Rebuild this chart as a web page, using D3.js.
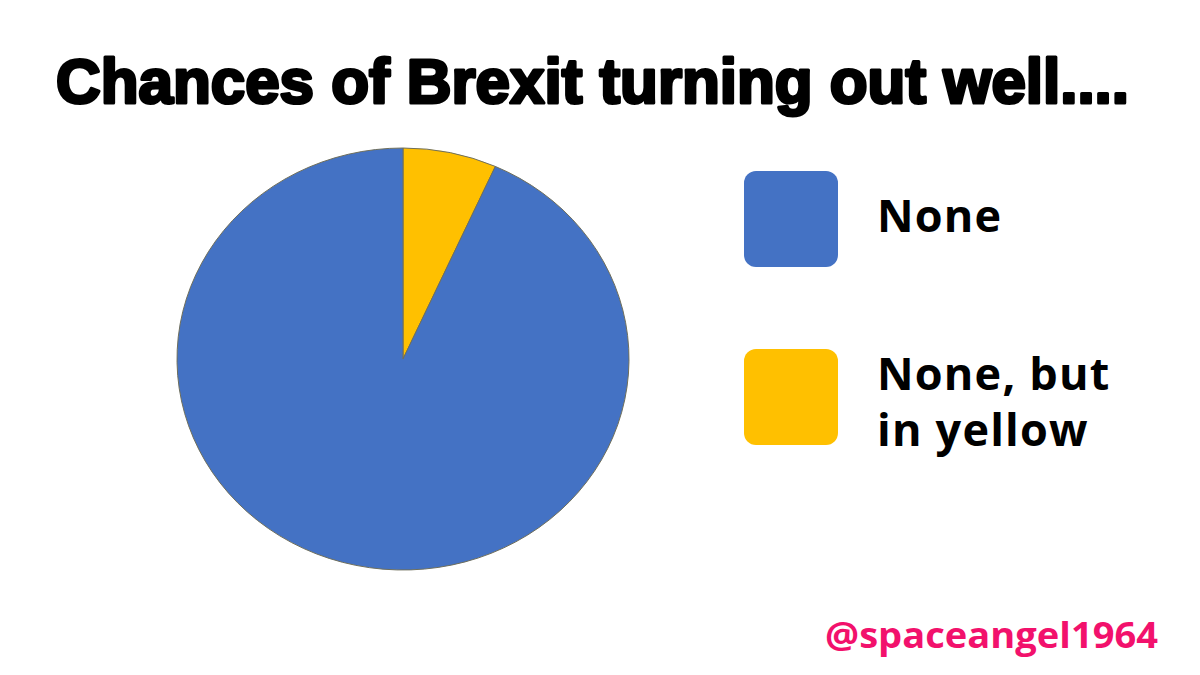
<!DOCTYPE html>
<html>
<head>
<meta charset="utf-8">
<script src="https://cdn.jsdelivr.net/npm/d3@7"></script>
<style>
  html, body { margin: 0; padding: 0; background: #fff; }
  svg { display: block; }
</style>
</head>
<body>
<svg id="chart" width="1200" height="675"></svg>
<script>
// ---- data ----
const categories = ["None", "None, but in yellow"];
const legendLines = [["None"], ["None, but", "in yellow"]];
const values = [93.3, 6.7];
const colors = ["#4472C4", "#FFC000"];
const titleText = "Chances of Brexit turning out well....";
const creditText = "@spaceangel1964";

// ---- drawing ----
const svg = d3.select("#chart");

svg.append("text")
  .attr("x", 56).attr("y", 103)
  .attr("textLength", 1073).attr("lengthAdjust", "spacingAndGlyphs")
  .style("font-family", "'Liberation Sans', Arial, sans-serif")
  .style("font-weight", "bold")
  .style("font-size", "63px")
  .attr("fill", "#000").attr("stroke", "#000").attr("stroke-width", 3.2)
  .attr("stroke-linejoin", "round")
  .text(titleText);

const cx = 403, cy = 359, rx = 226, ry = 211;
const pieData = categories.map((c, i) => ({ cat: c, value: values[i], color: colors[i] }));
const pie = d3.pie().sort(null).value(d => d.value);
const arcs = pie(pieData.slice().reverse());
const arc = d3.arc().innerRadius(0).outerRadius(ry);

const g = svg.append("g").attr("transform", `translate(${cx},${cy}) scale(${rx / ry},1)`);
g.selectAll("path").data(arcs).enter().append("path")
  .attr("d", arc)
  .attr("fill", d => d.data.color)
  .attr("stroke", "#6f6f5c")
  .attr("stroke-width", 1)
  .attr("vector-effect", "non-scaling-stroke");

// legend
const legY = d3.scalePoint().domain(categories).range([171, 349]);
const leg = svg.append("g");
categories.forEach((c, i) => {
  const y0 = legY(c);
  leg.append("rect")
    .attr("x", 744).attr("y", y0).attr("width", 94).attr("height", 96)
    .attr("rx", 12).attr("ry", 12)
    .attr("fill", colors[i]);
  const t = leg.append("text")
    .attr("x", 877).attr("y", y0 + (i === 0 ? 61 : 41))
    .style("font-family", "'Open Sans', 'Noto Sans', sans-serif")
    .style("font-weight", "bold")
    .style("font-size", "45px")
    .style("letter-spacing", "1.2px")
    .attr("fill", "#000");
  legendLines[i].forEach((ln, j) => {
    t.append("tspan").attr("x", 877).attr("dy", j === 0 ? 0 : 56).text(ln);
  });
});

svg.append("text")
  .attr("x", 825).attr("y", 648)
  .attr("textLength", 333).attr("lengthAdjust", "spacingAndGlyphs")
  .style("font-family", "'Open Sans', 'Noto Sans', sans-serif")
  .style("font-weight", "bold")
  .style("font-size", "36px")
  .attr("fill", "#F2116C")
  .text(creditText);
</script>
</body>
</html>
